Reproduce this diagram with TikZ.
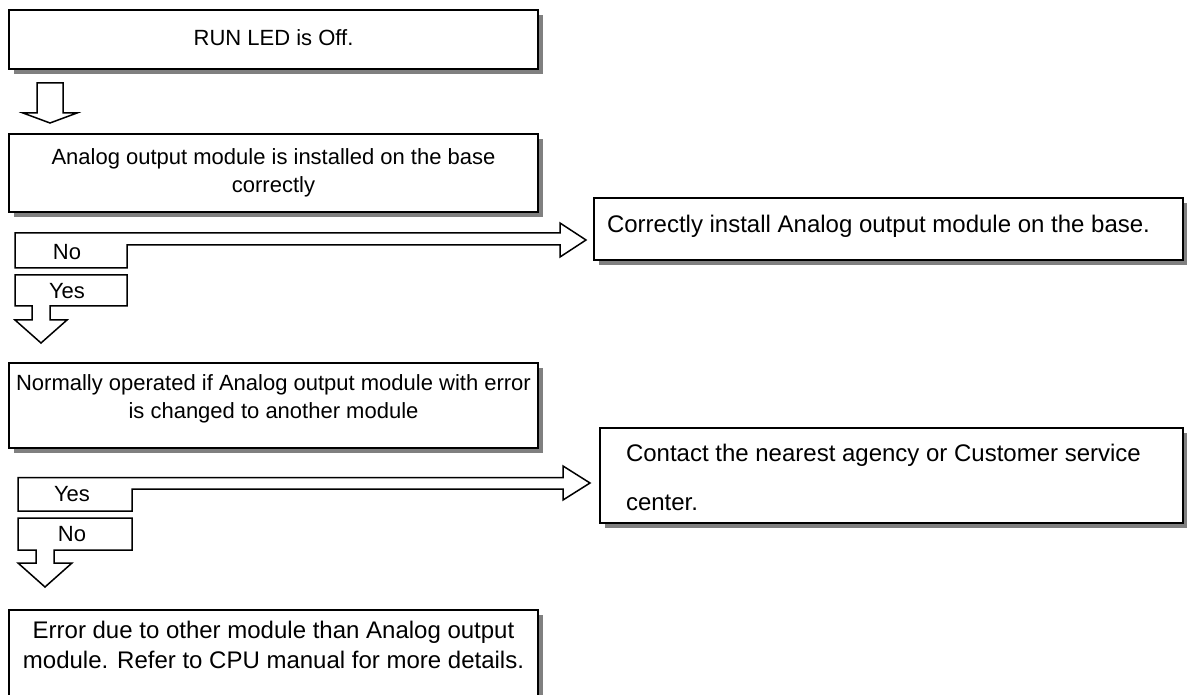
\documentclass[tikz,border=0pt]{standalone}
\usepackage{fontspec}
\setmainfont{Liberation Sans}
\usetikzlibrary{backgrounds,calc}
\definecolor{shadowgray}{HTML}{808080}
% centred box text: width, height, first-baseline, size, skip, text
\newcommand{\cbox}[6]{\parbox[c][#2][t]{#1}{\fontsize{#4}{#5}\selectfont\centering\rule{0pt}{#3}#6\par}}
% left box text: width, height, first-baseline, size, skip, indent, text
\newcommand{\lbox}[7]{\parbox[c][#2][t]{#1}{\fontsize{#4}{#5}\selectfont\raggedright\setlength\leftskip{#6}\rule{0pt}{#3}#7\par}}
\tikzset{
  flowbox/.style={draw=black, fill=white, line width=1.7pt, inner sep=0pt, outer sep=0pt, anchor=north west},
  blockarrow/.style={draw=black, fill=white, line width=1.5pt, line join=miter},
  tablabel/.style={inner sep=0pt, font=\fontsize{22}{26}\selectfont},
}
\begin{document}
\begin{tikzpicture}[x=1pt, y=-1pt]
\useasboundingbox (0,0) rectangle (1187,695);

% left column boxes
\node[flowbox] (b1) at (9,10) {\cbox{529pt}{59pt}{36pt}{22}{28}{RUN LED is Off.}};
\node[flowbox] (b2) at (9,134) {\cbox{529pt}{78pt}{31pt}{22}{28}{Analog output module is installed on the base\\correctly}};
\node[flowbox] (b3) at (9,363) {\cbox{529pt}{85pt}{27pt}{22}{28}{Normally operated if Analog output module with error\\is changed to another module}};
\node[flowbox] (b4) at (9,610) {\cbox{529pt}{110pt}{28.6pt}{24}{30}{Error due to other module than Analog output\\module. Refer to CPU manual for more details.}};

% right column boxes
\node[flowbox] (r1) at (594,198) {\lbox{589pt}{62pt}{34.6pt}{24}{30}{13pt}{Correctly install Analog output module on the base.}};
\node[flowbox] (r2) at (600,428) {\lbox{583pt}{95pt}{33.6pt}{24}{49}{26pt}{Contact the nearest agency or Customer service\\center.}};

% shadows
\begin{scope}[on background layer]
  \foreach \n in {b1,b2,b3,b4,r1,r2}
    \fill[shadowgray] ($(\n.south west)+(5,5)$) rectangle ($(\n.north east)+(5,5)$);
\end{scope}

% first plain down arrow
\draw[blockarrow] (37,83) -- (63,83) -- (63,113) -- (77,113) -- (50,123) -- (23,113) -- (37,113) -- cycle;

% group 1: No -> right, Yes -> down
\draw[blockarrow] (15,233) -- (560,233) -- (560,223) -- (586,240) -- (560,257) -- (560,245)
  -- (127,245) -- (127,268) -- (15,268) -- cycle;
\draw[blockarrow] (15,275) -- (127,275) -- (127,306) -- (50,306) -- (50,320) -- (67,320)
  -- (41,343) -- (15,320) -- (32,320) -- (32,306) -- (15,306) -- cycle;
\node[tablabel] (no1) at (67,252) {No};
\node[tablabel] (yes1) at (67,291) {Yes};

% group 2: Yes -> right, No -> down
\draw[blockarrow] (18,477.5) -- (563,477.5) -- (563,466) -- (590,483) -- (563,500) -- (563,489)
  -- (132,489) -- (132,511) -- (18,511) -- cycle;
\draw[blockarrow] (18,518) -- (132,518) -- (132,550) -- (54,550) -- (54,563) -- (72,563)
  -- (45,587) -- (18,563) -- (36,563) -- (36,550) -- (18,550) -- cycle;
\node[tablabel] (yes2) at (72,494) {Yes};
\node[tablabel] (no2) at (72,534) {No};
\end{tikzpicture}
\end{document}
